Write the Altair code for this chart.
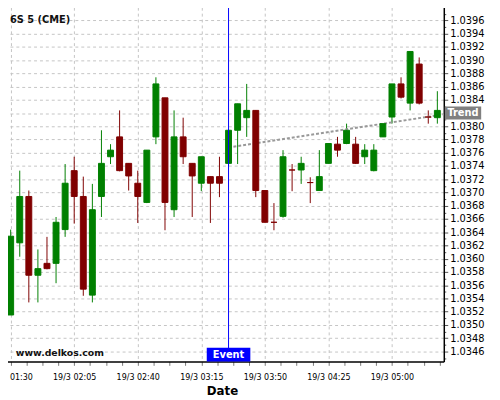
import json
import altair as alt
import pandas as pd

# ---------------- data ----------------
times = ["01:30", "01:35", "01:40", "01:45", "01:50", "01:55", "02:00", "02:05",
         "02:10", "02:15", "02:20", "02:25", "02:30", "02:35", "02:40", "02:45",
         "02:50", "02:55", "03:00", "03:05", "03:10", "03:15", "03:20", "03:25",
         "03:30", "03:35", "03:40", "03:45", "03:50", "03:55", "04:00", "04:05",
         "04:10", "04:15", "04:20", "04:25", "04:30", "04:35", "04:40", "04:45",
         "04:50", "04:55", "05:00", "05:05", "05:10", "05:15", "05:20", "05:25"]

opens = [1.03515, 1.03624, 1.03694, 1.03575, 1.03593, 1.03593, 1.03644, 1.03733, 1.03694, 1.03545,
         1.03694, 1.03754, 1.03784, 1.03744, 1.03714, 1.03685, 1.03784, 1.03843, 1.03674, 1.03784,
         1.03744, 1.03714, 1.03724, 1.03724, 1.03744, 1.03794, 1.03813, 1.03824, 1.03703, 1.03655,
         1.03664, 1.03734, 1.03734, 1.03715, 1.03703, 1.03744, 1.03773, 1.03774, 1.03773, 1.03754,
         1.03733, 1.03784, 1.03814, 1.03864, 1.03835, 1.03894, 1.03814, 1.03813]
highs = [1.03644, 1.03733, 1.03703, 1.03614, 1.03633, 1.03663, 1.03743, 1.03754, 1.03724, 1.03713,
         1.03794, 1.03773, 1.03824, 1.03744, 1.03733, 1.03764, 1.03874, 1.03843, 1.03824, 1.03813,
         1.03744, 1.03754, 1.03724, 1.03754, 1.03796, 1.03834, 1.03864, 1.03824, 1.03703, 1.03684,
         1.03764, 1.03743, 1.03754, 1.03723, 1.03764, 1.03774, 1.03784, 1.03804, 1.03784, 1.03773,
         1.03773, 1.03804, 1.03864, 1.03874, 1.03913, 1.03904, 1.03824, 1.03853]
lows = [1.03515, 1.03603, 1.03534, 1.03534, 1.03584, 1.03563, 1.03633, 1.03653, 1.03544, 1.03534,
        1.03663, 1.03743, 1.03732, 1.03703, 1.03654, 1.03684, 1.03773, 1.03643, 1.03663, 1.03743,
        1.03663, 1.03702, 1.03654, 1.03693, 1.03740, 1.03743, 1.03784, 1.03693, 1.03655, 1.03643,
        1.03662, 1.03702, 1.03713, 1.03684, 1.03703, 1.03744, 1.03754, 1.03773, 1.03743, 1.03743,
        1.03732, 1.03784, 1.03804, 1.03842, 1.03824, 1.03833, 1.03804, 1.03804]
closes = [1.03634, 1.03694, 1.03575, 1.03585, 1.03585, 1.03655, 1.03714, 1.03694, 1.03554, 1.03674,
          1.03744, 1.03764, 1.03733, 1.03725, 1.03694, 1.03764, 1.03864, 1.03685, 1.03784, 1.03754,
          1.03725, 1.03754, 1.03714, 1.03714, 1.03794, 1.03834, 1.03824, 1.03703, 1.03655, 1.03655,
          1.03754, 1.03734, 1.03744, 1.03715, 1.03724, 1.03774, 1.03764, 1.03794, 1.03744, 1.03764,
          1.03764, 1.03804, 1.03864, 1.03844, 1.03913, 1.03835, 1.03814, 1.03824]

x_tick_labels = ["19/3 01:30", "19/3 02:05", "19/3 02:40", "19/3 03:15",
                 "19/3 03:50", "19/3 04:25", "19/3 05:00"]

event_time = ["03:30"]
event_label = ["Event"]
trend_times = ["03:30", "05:28:33"]
trend_prices = [1.03768, 1.03818]
trend_label = ["Trend"]
trend_label_level = 1.0382   # axis label hidden under the "Trend" tag
chart_title = ["6S 5 (CME)"]
watermark = ["www.delkos.com"]


def minutes(s):
    parts = [int(p) for p in s.split(":")]
    m = parts[0] * 60 + parts[1] + (parts[2] / 60 if len(parts) > 2 else 0)
    return m - 90  # minutes after 01:30


df = pd.DataFrame({
    "t": [minutes(s) for s in times],
    "o": opens, "h": highs, "l": lows, "c": closes,
})
df["dir"] = ["up" if c > o else "down" for o, c in zip(opens, closes)]

ev_df = pd.DataFrame({"t": [minutes(s) for s in event_time], "label": event_label})
tr_df = pd.DataFrame({"t": [minutes(s) for s in trend_times], "p": trend_prices})
trl_df = pd.DataFrame({"label": trend_label})
title_df = pd.DataFrame({"label": chart_title})
wm_df = pd.DataFrame({"label": watermark})

# ---------------- scales / axes ----------------
xs = alt.Scale(domain=[-5.8, 238.55], nice=False, zero=False, padding=0)
ys = alt.Scale(domain=[1.034449, 1.039798], nice=False, zero=False, padding=0)

x_vals = [k * 8.75 for k in range(0, 28)]
y_vals = [round(1.0345 + k * 0.0001, 4) for k in range(0, 54)]

major_x = "datum.value % 35 === 0"
major_y = "round(datum.value * 10000) % 2 === 0"

x_axis = alt.Axis(
    values=x_vals,
    labelExpr=f"{major_x} ? {json.dumps(x_tick_labels)}[round(datum.value / 35)] : ''",
    grid=True, gridColor="#c4c4c4", gridDash=[3, 3], gridWidth=1,
    gridOpacity={"condition": {"test": major_x, "value": 1}, "value": 0},
    domainColor="#000000", domainWidth=1.5,
    tickColor="#777777", tickSize=4, tickWidth=1,
    labelFont="DejaVu Sans Condensed, DejaVu Sans", labelFontSize=9,
    labelColor="#000000", labelPadding=7, labelFlush=False, labelOverlap=False,
    title="Date", titleFont="DejaVu Sans", titleFontSize=12, titleFontWeight="bold",
    titleColor="#000000", titlePadding=5, zindex=0,
)
y_axis = alt.Axis(
    orient="right", values=y_vals,
    labelExpr=(f"({major_y}) && abs(datum.value - {trend_label_level}) > 0.00001"
               " ? format(datum.value, '.4f') : ''"),
    grid=True, gridColor="#c4c4c4", gridDash=[3, 3], gridWidth=1,
    gridOpacity={"condition": {"test": major_y, "value": 1}, "value": 0},
    tickSize={"condition": {"test": major_y, "value": 4}, "value": 2},
    domainColor="#000000", domainWidth=1.5,
    tickColor="#555555", tickWidth=1,
    labelFont="DejaVu Sans", labelFontSize=10, labelColor="#000000",
    labelPadding=2, labelOverlap=False, labelFlush=False,
    title="", zindex=0,
)

X = lambda f: alt.X(f, scale=xs, axis=x_axis)
Y = lambda f: alt.Y(f, scale=ys, axis=y_axis)

dir_scale = alt.Scale(domain=["up", "down"], range=["#008000", "#800000"])

base = alt.Chart(df)

wicks = base.mark_rule(strokeWidth=1).encode(
    x=X("t:Q"), y=Y("l:Q"), y2="h:Q",
    color=alt.Color("dir:N", scale=dir_scale, legend=None),
)
bodies = base.mark_bar(size=6, strokeWidth=1).encode(
    x=X("t:Q"), y=Y("o:Q"), y2="c:Q",
    color=alt.Color("dir:N", scale=dir_scale, legend=None),
    stroke=alt.Stroke("dir:N", scale=dir_scale, legend=None),
)

trend = alt.Chart(tr_df).mark_line(color="#999999", strokeWidth=2, strokeDash=[3, 2]).encode(
    x=X("t:Q"), y=Y("p:Q"),
)

event_rule = alt.Chart(ev_df).mark_rule(color="#0000ff", strokeWidth=1).encode(
    x=X("t:Q"),
)
event_box = alt.Chart(ev_df).transform_calculate(
    a="datum.t - 12", b="datum.t + 12"
).mark_rect(color="#0000ff").encode(
    x=X("a:Q"), x2="b:Q",
    y=alt.value(346), y2=alt.value(360),
)
event_text = alt.Chart(ev_df).mark_text(
    color="#ffffff", font="DejaVu Sans", fontSize=10, fontWeight="bold", baseline="middle"
).encode(
    x=X("t:Q"), y=alt.value(353.5), text="label:N",
)

trend_box = alt.Chart(trl_df).mark_rect(color="#808080").encode(
    x=alt.value(452), x2=alt.value(489), y=alt.value(101), y2=alt.value(114),
)
trend_text = alt.Chart(trl_df).mark_text(
    color="#ffffff", font="DejaVu Sans", fontSize=10, fontWeight="bold", baseline="middle"
).encode(
    x=alt.value(470.5), y=alt.value(107.5), text="label:N",
)

title_text = alt.Chart(title_df).mark_text(
    color="#111111", font="DejaVu Sans", fontSize=10, fontWeight="bold",
    align="left", baseline="alphabetic"
).encode(x=alt.value(10), y=alt.value(15.5), text="label:N")

wm_text = alt.Chart(wm_df).mark_text(
    color="#111111", font="DejaVu Sans", fontSize=9.5, fontWeight="bold",
    align="left", baseline="alphabetic"
).encode(x=alt.value(16), y=alt.value(354.3), text="label:N")

chart = alt.layer(
    wicks, trend, bodies, event_rule, event_box, event_text,
    trend_box, trend_text, title_text, wm_text
).properties(
    width=451, height=360,
    autosize=alt.AutoSizeParams(type="none"),
    padding={"left": -8, "top": -4, "right": 49, "bottom": 36},
    background="#ffffff",
).configure_view(stroke="transparent")

chart.save("out.html", embed_options={"renderer": "svg", "actions": False})
